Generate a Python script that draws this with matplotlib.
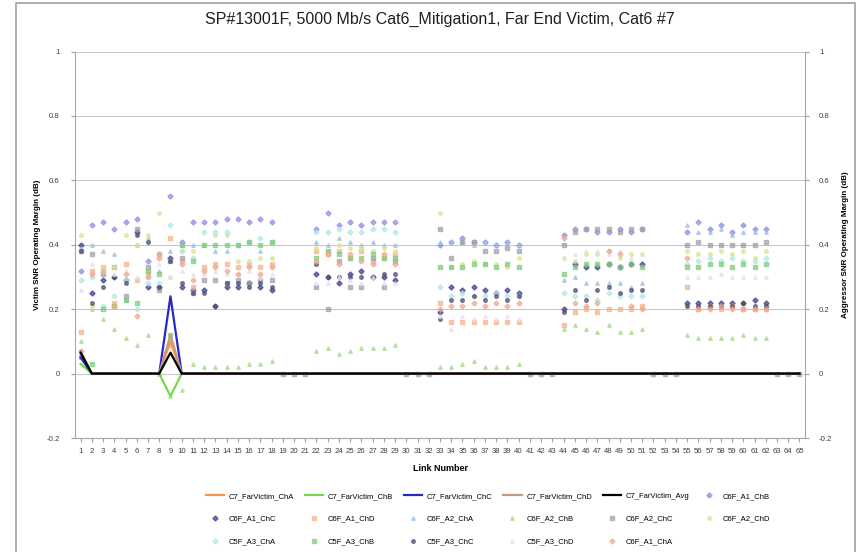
import numpy as np
import matplotlib
matplotlib.use("Agg")
import matplotlib.pyplot as plt
from matplotlib.patches import Rectangle

plt.rcParams['font.family'] = ['Liberation Sans', 'DejaVu Sans']

links = list(range(1, 66))
N = None

# victim lines (dB), link 1..65
victim_cha = [0.06] + [0.0] * 7 + [0.10] + [0.0] * 56
victim_chb = [0.03] + [0.0] * 7 + [-0.07] + [0.0] * 56
victim_chc = [0.05] + [0.0] * 7 + [0.24] + [0.0] * 56
victim_chd = [0.07] + [0.0] * 7 + [0.12] + [0.0] * 56
victim_avg = [0.065] + [0.0] * 7 + [0.065] + [0.0] * 56

# aggressor points, groups: 1-18 | 19-21 | 22-29 | 30-32 | 33-40 | 41-43 | 44-51 | 52-54 | 55-62 | 63-65
c6f_a1_chb = [0.32, 0.46, 0.47, 0.45, 0.47, 0.48, 0.35, 0.37, 0.55, 0.41, 0.47, 0.47, 0.47, 0.48, 0.48, 0.47, 0.48, 0.47,
              N, N, N,
              0.45, 0.50, 0.46, 0.47, 0.46, 0.47, 0.47, 0.47,
              N, N, N,
              0.40, 0.41, 0.42, 0.41, 0.41, 0.40, 0.41, 0.40,
              N, N, N,
              0.43, 0.45, 0.45, 0.44, 0.44, 0.45, 0.44, 0.45,
              N, N, N,
              0.44, 0.47, 0.45, 0.46, 0.44, 0.46, 0.45, 0.45,
              N, N, N]
c6f_a1_chc = [0.40, 0.25, 0.29, 0.30, 0.29, 0.44, 0.27, 0.27, 0.36, 0.27, 0.26, 0.26, 0.21, 0.27, 0.27, 0.28, 0.27, 0.26,
              N, N, N,
              0.31, 0.30, 0.28, 0.31, 0.32, 0.30, 0.30, 0.29,
              N, N, N,
              0.19, 0.27, 0.26, 0.27, 0.26, 0.25, 0.26, 0.25,
              N, N, N,
              0.20, 0.34, 0.33, 0.33, 0.34, 0.33, 0.34, 0.34,
              N, N, N,
              0.22, 0.22, 0.22, 0.22, 0.22, 0.22, 0.23, 0.22,
              N, N, N]
c6f_a1_chd = [0.13, 0.32, 0.33, 0.22, 0.34, 0.29, 0.31, 0.37, 0.42, 0.35, 0.27, 0.33, 0.34, 0.34, 0.33, 0.34, 0.33, 0.34,
              N, N, N,
              0.38, 0.37, 0.38, 0.36, 0.38, 0.35, 0.36, 0.37,
              N, N, N,
              0.22, 0.16, 0.16, 0.16, 0.16, 0.16, 0.16, 0.16,
              N, N, N,
              0.15, 0.19, 0.20, 0.19, 0.20, 0.20, 0.20, 0.21,
              N, N, N,
              0.27, 0.20, 0.21, 0.20, 0.21, 0.20, 0.20, 0.20,
              N, N, N]
c6f_a2_cha = [0.39, 0.40, 0.38, 0.37, 0.23, 0.40, 0.42, 0.32, 0.38, 0.40, 0.40, 0.40, 0.38, 0.38, 0.40, 0.41, 0.38, 0.41,
              N, N, N,
              0.41, 0.40, 0.42, 0.41, 0.40, 0.41, 0.40, 0.40,
              N, N, N,
              0.41, 0.41, 0.41, 0.40, 0.41, 0.40, 0.41, 0.40,
              N, N, N,
              0.29, 0.30, 0.28, 0.28, 0.28, 0.28, 0.27, 0.28,
              N, N, N,
              0.46, 0.44, 0.44, 0.45, 0.43, 0.44, 0.44, 0.44,
              N, N, N]
c6f_a2_chb = [0.10, 0.20, 0.17, 0.14, 0.11, 0.09, 0.12, 0.00, -0.07, -0.05, 0.03, 0.02, 0.02, 0.02, 0.02, 0.03, 0.03, 0.04,
              N, N, N,
              0.07, 0.08, 0.06, 0.07, 0.08, 0.08, 0.08, 0.09,
              N, N, N,
              0.02, 0.02, 0.03, 0.04, 0.02, 0.02, 0.02, 0.03,
              N, N, N,
              0.14, 0.15, 0.14, 0.13, 0.15, 0.13, 0.13, 0.14,
              N, N, N,
              0.12, 0.11, 0.11, 0.11, 0.11, 0.12, 0.11, 0.11,
              N, N, N]
c6f_a2_chc = [0.38, 0.37, 0.31, 0.33, 0.24, 0.45, 0.33, 0.26, 0.35, 0.36, 0.25, 0.29, 0.29, 0.28, 0.29, 0.28, 0.29, 0.29,
              0.0, 0.0, 0.0,
              0.27, 0.20, 0.35, 0.27, 0.27, 0.36, 0.27, 0.35,
              0.0, 0.0, 0.0,
              0.45, 0.36, 0.41, 0.41, 0.38, 0.38, 0.39, 0.38,
              0.0, 0.0, 0.0,
              0.40, 0.44, 0.45, 0.45, 0.45, 0.44, 0.45, 0.45,
              0.0, 0.0, 0.0,
              0.40, 0.41, 0.40, 0.40, 0.40, 0.40, 0.40, 0.41,
              0.0, 0.0, 0.0]
c6f_a2_chd = [0.43, 0.21, 0.33, 0.33, 0.43, 0.40, 0.43, 0.50, 0.30, 0.38, 0.38, 0.40, 0.43, 0.43, 0.35, 0.35, 0.36, 0.36,
              N, N, N,
              0.39, 0.38, 0.40, 0.39, 0.39, 0.38, 0.39, 0.38,
              N, N, N,
              0.50, 0.33, 0.34, 0.35, 0.34, 0.34, 0.33, 0.36,
              N, N, N,
              0.36, 0.35, 0.37, 0.37, 0.38, 0.36, 0.37, 0.37,
              N, N, N,
              0.38, 0.37, 0.37, 0.38, 0.37, 0.38, 0.36, 0.38,
              N, N, N]
c5f_a3_cha = [0.29, 0.30, 0.21, 0.24, 0.29, 0.20, 0.28, 0.28, 0.46, 0.38, 0.36, 0.44, 0.44, 0.44, 0.40, 0.41, 0.42, 0.41,
              N, N, N,
              0.44, 0.44, 0.45, 0.44, 0.44, 0.45, 0.45, 0.44,
              N, N, N,
              0.27, 0.24, 0.25, 0.24, 0.24, 0.25, 0.24, 0.24,
              N, N, N,
              0.25, 0.24, 0.24, 0.23, 0.25, 0.24, 0.24, 0.24,
              N, N, N,
              0.34, 0.35, 0.36, 0.35, 0.36, 0.35, 0.35, 0.36,
              N, N, N]
c5f_a3_chb = [0.05, 0.03, 0.20, 0.21, 0.23, 0.22, 0.32, 0.31, 0.12, 0.40, 0.35, 0.40, 0.40, 0.40, 0.40, 0.41, 0.40, 0.41,
              N, N, N,
              0.36, 0.38, 0.37, 0.36, 0.36, 0.37, 0.36, 0.36,
              N, N, N,
              0.33, 0.33, 0.33, 0.34, 0.34, 0.33, 0.34, 0.33,
              N, N, N,
              0.31, 0.33, 0.34, 0.34, 0.34, 0.33, 0.34, 0.33,
              N, N, N,
              0.33, 0.33, 0.34, 0.34, 0.33, 0.34, 0.33, 0.34,
              N, N, N]
c5f_a3_chc = [0.38, 0.22, 0.27, 0.30, 0.28, 0.43, 0.41, 0.27, 0.35, 0.28, 0.25, 0.25, 0.21, 0.28, 0.28, 0.27, 0.28, 0.27,
              N, N, N,
              0.34, 0.30, 0.30, 0.30, 0.30, 0.30, 0.31, 0.31,
              N, N, N,
              0.17, 0.23, 0.23, 0.24, 0.23, 0.24, 0.23, 0.24,
              N, N, N,
              0.19, 0.26, 0.23, 0.26, 0.27, 0.25, 0.26, 0.26,
              N, N, N,
              0.21, 0.21, 0.21, 0.21, 0.21, 0.22, 0.21, 0.21,
              N, N, N]
c5f_a3_chd = [0.26, 0.34, 0.32, 0.31, 0.32, 0.30, 0.30, 0.34, 0.30, 0.32, 0.31, 0.31, 0.32, 0.31, 0.31, 0.32, 0.30, 0.31,
              N, N, N,
              0.28, 0.28, 0.30, 0.29, 0.28, 0.30, 0.28, 0.28,
              N, N, N,
              0.18, 0.14, 0.18, 0.17, 0.18, 0.17, 0.18, 0.17,
              N, N, N,
              0.36, 0.37, 0.38, 0.38, 0.37, 0.38, 0.36, 0.37,
              N, N, N,
              0.30, 0.30, 0.30, 0.31, 0.30, 0.30, 0.30, 0.30,
              N, N, N]
c6f_a1_cha = [0.07, 0.31, 0.32, 0.21, 0.31, 0.18, 0.30, 0.36, 0.09, 0.34, 0.29, 0.32, 0.33, 0.32, 0.31, 0.33, 0.31, 0.33,
              N, N, N,
              0.35, 0.37, 0.34, 0.37, 0.35, 0.34, 0.37, 0.34,
              N, N, N,
              0.20, 0.21, 0.21, 0.22, 0.21, 0.22, 0.21, 0.22,
              N, N, N,
              0.42, 0.22, 0.21, 0.22, 0.38, 0.37, 0.21, 0.20,
              N, N, N,
              0.36, 0.20, 0.20, 0.21, 0.20, 0.20, 0.20, 0.20,
              N, N, N]

line_series = [
    ("C7_FarVictim_ChA", victim_cha, "#F79646"),
    ("C7_FarVictim_ChB", victim_chb, "#77D84A"),
    ("C7_FarVictim_ChC", victim_chc, "#2828C8"),
    ("C7_FarVictim_ChD", victim_chd, "#C49A82"),
    ("C7_FarVictim_Avg", victim_avg, "#000000"),
]
point_series = [
    ("C6F_A1_ChB", c6f_a1_chb, "#8C8CE6", "D"),
    ("C6F_A1_ChC", c6f_a1_chc, "#3C3C8C", "D"),
    ("C6F_A1_ChD", c6f_a1_chd, "#F5B48C", "s"),
    ("C6F_A2_ChA", c6f_a2_cha, "#9CC3E6", "^"),
    ("C6F_A2_ChB", c6f_a2_chb, "#A8DC8C", "^"),
    ("C6F_A2_ChC", c6f_a2_chc, "#A0A0A8", "s"),
    ("C6F_A2_ChD", c6f_a2_chd, "#D8E68C", "o"),
    ("C5F_A3_ChA", c5f_a3_cha, "#B4E6E6", "D"),
    ("C5F_A3_ChB", c5f_a3_chb, "#7CCC7C", "s"),
    ("C5F_A3_ChC", c5f_a3_chc, "#505070", "o"),
    ("C5F_A3_ChD", c5f_a3_chd, "#E6E0F0", "^"),
    ("C6F_A1_ChA", c6f_a1_cha, "#F0A890", "D"),
]

fig = plt.figure(figsize=(8.64, 5.52), dpi=100)
ax = fig.add_axes([0.0868, 0.2065, 0.845, 0.7002])

handles = []
for name, vals, col, mk in point_series:
    y = np.array([np.nan if v is None else v for v in vals], dtype=float)
    h, = ax.plot(links, y, linestyle="none", marker=mk, ms=2.6, color=col,
                 mec=col, alpha=0.7, label=name, zorder=2)
    handles.append(h)

line_handles = []
for name, vals, col in line_series:
    h, = ax.plot(links, vals, color=col, lw=1.6, label=name, zorder=3)
    line_handles.append(h)

all_handles = line_handles + handles

ax.set_xlim(0.5, 65.5)
ax.set_ylim(-0.2, 1.0)
ax.set_yticks([-0.2, 0, 0.2, 0.4, 0.6, 0.8, 1.0])
ax.set_yticklabels(["-0.2", "0", "0.2", "0.4", "0.6", "0.8", "1"])
ax.set_xticks(links)
ax.set_xticklabels([str(i) for i in links], fontsize=5.6)
ax.tick_params(axis="y", labelsize=5.6, length=3, color="#A0A0A0", labelcolor="#404040", pad=8)
ax.tick_params(axis="x", length=3, color="#A0A0A0", labelcolor="#404040", pad=4)
ax.grid(axis="y", color="#C8C8C8", lw=0.8)
ax.set_axisbelow(True)
for s in ["top", "right"]:
    ax.spines[s].set_visible(False)
for s in ["left", "bottom"]:
    ax.spines[s].set_color("#A8A8A8")

ax.set_ylabel("Victim SNR Operating Margin (dB)", fontsize=5.8, fontweight="bold", labelpad=4)
ax.set_xlabel("Link Number", fontsize=6.5, fontweight="bold", labelpad=7)
ax.set_title("SP#13001F, 5000 Mb/s Cat6_Mitigation1, Far End Victim, Cat6 #7", fontsize=11.5,
             pad=20, color="#202020")

ax2 = ax.twinx()
ax2.set_ylim(-0.2, 1.0)
ax2.set_yticks([-0.2, 0, 0.2, 0.4, 0.6, 0.8, 1.0])
ax2.set_yticklabels(["-0.2", "0", "0.2", "0.4", "0.6", "0.8", "1"])
ax2.tick_params(axis="y", labelsize=5.6, length=3, color="#A0A0A0", labelcolor="#404040", pad=7)
for s in ["top", "left", "bottom"]:
    ax2.spines[s].set_visible(False)
ax2.spines["right"].set_color("#A8A8A8")
ax2.set_ylabel("Aggressor SNR Operating Margin (dB)", fontsize=5.8, fontweight="bold",
               rotation=90, labelpad=7)

# row-major ordering for the 6-column legend
ncol = 6
order = []
for c in range(ncol):
    for r in range(3):
        i = r * ncol + c
        if i < len(all_handles):
            order.append(i)
leg = fig.legend([all_handles[i] for i in order], [all_handles[i].get_label() for i in order],
                 loc="center", bbox_to_anchor=(0.565, 0.06), ncol=ncol, fontsize=5.5,
                 frameon=False, handlelength=2.4, columnspacing=1.4, labelspacing=2.0,
                 handletextpad=0.6)

fig.patches.append(Rectangle((16 / 864, -0.01), (855 - 16) / 864, (552 - 3) / 552 + 0.01,
                             transform=fig.transFigure, fill=False, ec="#A0A0A0", lw=1.2))

fig.savefig("out.png", dpi=100)
